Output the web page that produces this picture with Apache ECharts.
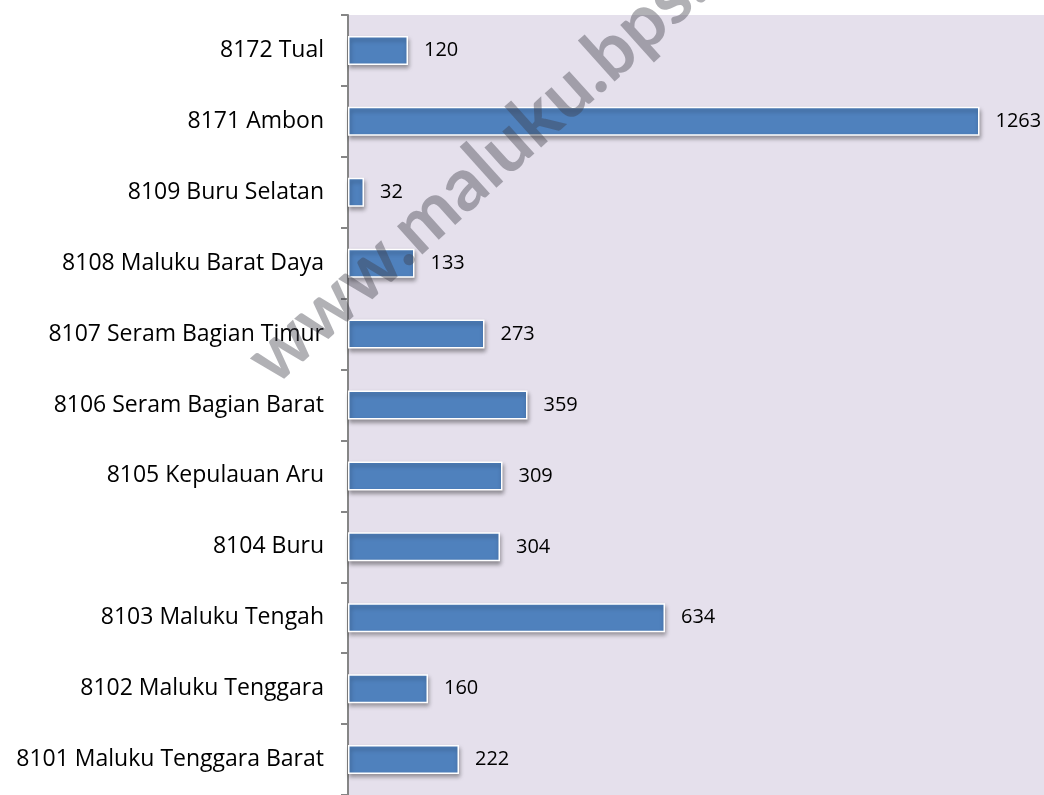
<!DOCTYPE html>
<html>
<head>
<meta charset="utf-8">
<script src="https://cdn.jsdelivr.net/npm/echarts@6/dist/echarts.min.js"></script>
<style>
  html, body { margin: 0; padding: 0; background: #fff; }
  #main { width: 1044px; height: 795px; }
</style>
</head>
<body>
<div id="main"></div>
<script>
// kategori dari bawah ke atas (urutan sumbu kategori echarts)
var categories = [
  "8101 Maluku Tenggara Barat",
  "8102 Maluku Tenggara",
  "8103 Maluku Tengah",
  "8104 Buru",
  "8105 Kepulauan Aru",
  "8106 Seram Bagian Barat",
  "8107 Seram Bagian Timur",
  "8108 Maluku Barat Daya",
  "8109 Buru Selatan",
  "8171 Ambon",
  "8172 Tual"
];
var values = [222, 160, 634, 304, 309, 359, 273, 133, 32, 1263, 120];
var watermark = "www.maluku.bps.go.id";

var chart = echarts.init(document.getElementById("main"));
chart.setOption({
  animation: false,
  grid: {
    left: 348,
    right: 0,
    top: 15,
    bottom: 0,
    show: true,
    backgroundColor: "#e5e0ec",
    borderWidth: 0
  },
  xAxis: {
    type: "value",
    min: 0,
    max: 1392,
    show: false
  },
  yAxis: {
    type: "category",
    data: categories,
    axisLine: {
      show: true,
      lineStyle: { color: "#868686", width: 2 }
    },
    axisTick: {
      show: true,
      length: 7,
      lineStyle: { color: "#868686", width: 2 }
    },
    axisLabel: {
      color: "#000",
      fontFamily: "Open Sans",
      fontSize: 23,
      margin: 24
    }
  },
  series: [
    {
      type: "bar",
      data: values,
      barWidth: 29,
      itemStyle: {
        color: "#4f81bd",
        borderColor: "#fff",
        borderWidth: 1.5,
        shadowColor: "rgba(0,0,0,0.35)",
        shadowBlur: 4,
        shadowOffsetX: 1,
        shadowOffsetY: 3
      },
      label: {
        show: true,
        position: "right",
        distance: 16,
        color: "#000",
        fontFamily: "Open Sans",
        fontSize: 20
      }
    }
  ],
  // watermark miring di atas plot
  graphic: [
    {
      type: "text",
      x: 536,
      y: 120,
      rotation: 42 * Math.PI / 180,
      z: 100,
      style: {
        text: watermark,
        fontFamily: "Lato",
        fontWeight: "bold",
        fontSize: 74,
        fill: "rgba(60,60,70,0.4)",
        align: "center",
        verticalAlign: "middle"
      }
    }
  ]
});
</script>
</body>
</html>
